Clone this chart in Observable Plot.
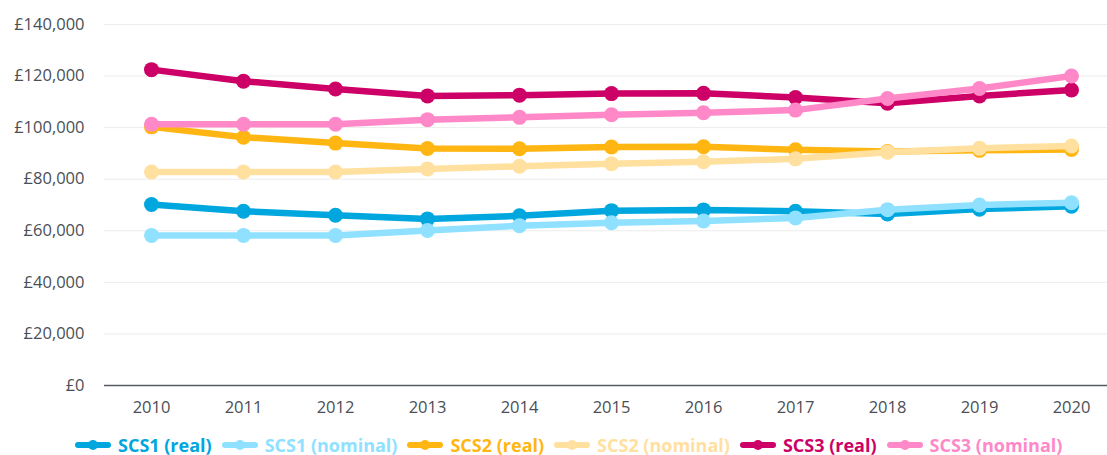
<!DOCTYPE html>
<html>
<head>
<meta charset="utf-8">
<script src="https://cdn.jsdelivr.net/npm/d3@7"></script>
<script src="https://cdn.jsdelivr.net/npm/@observablehq/plot@0.6"></script>
<style>
  html, body { margin: 0; padding: 0; background: #fff; }
  body { width: 1107px; height: 455px; overflow: hidden; font-family: "Open Sans", sans-serif; }
  #chart svg { display: block; }
  #legend { display: flex; align-items: center; height: 26px; padding-left: 75px; font-weight: 700; font-size: 18px; white-space: nowrap; }
  .item { display: flex; align-items: center; margin-right: 10px; }
  .item svg { margin-right: 7px; }
</style>
</head>
<body>
<div id="chart"></div>
<div id="legend"></div>
<script>
const years = [2010, 2011, 2012, 2013, 2014, 2015, 2016, 2017, 2018, 2019, 2020];
const seriesNames = ["SCS1 (real)", "SCS1 (nominal)", "SCS2 (real)", "SCS2 (nominal)", "SCS3 (real)", "SCS3 (nominal)"];
const scs1Real    = [70200, 67600, 66000, 64600, 65800, 67800, 68100, 67600, 66500, 68400, 69500];
const scs1Nominal = [58200, 58200, 58200, 60100, 62000, 63100, 63800, 65000, 68200, 70000, 70900];
const scs2Real    = [100300, 96300, 94000, 91900, 91800, 92500, 92600, 91400, 90700, 91200, 91500];
const scs2Nominal = [82800, 82800, 82800, 84000, 85000, 86000, 86800, 87900, 90500, 92000, 92900];
const scs3Real    = [122500, 118000, 115000, 112300, 112600, 113200, 113300, 111700, 109500, 112300, 114600];
const scs3Nominal = [101300, 101300, 101300, 103100, 104000, 105000, 105800, 106800, 111300, 115200, 120000];
const yTicks = [0, 20000, 40000, 60000, 80000, 100000, 120000, 140000];
const seriesColors = ["#00a6de", "#8fe1ff", "#ffb612", "#ffe09e", "#cc0066", "#ff88c8"];

const seriesValues = [scs1Real, scs1Nominal, scs2Real, scs2Nominal, scs3Real, scs3Nominal];
const data = seriesNames.flatMap((name, i) => years.map((year, j) => ({series: name, year, value: seriesValues[i][j]})));

const fmt = d => "£" + d3.format(",")(d);

const marks = [
  Plot.gridY(yTicks.filter(d => d > 0), {stroke: "#ececec", strokeOpacity: 1, strokeWidth: 1}),
  Plot.ruleY([0], {stroke: "#555b62", strokeWidth: 1.5}),
  Plot.axisY(yTicks, {tickSize: 0, tickPadding: 20, tickFormat: fmt, fontSize: 16.5, fill: "#4a4f55"}),
  Plot.axisX(years, {tickSize: 0, tickPadding: 16, tickFormat: d => String(d), fontSize: 16.5, fill: "#4a4f55"})
];
seriesNames.forEach(name => {
  const d = data.filter(r => r.series === name);
  marks.push(Plot.lineY(d, {x: "year", y: "value", stroke: "series", strokeWidth: 6.5, strokeLinejoin: "round", strokeLinecap: "round"}));
  marks.push(Plot.dot(d, {x: "year", y: "value", fill: "series", r: 7.5, stroke: null}));
});

const chart = Plot.plot({
  width: 1107,
  height: 432,
  marginTop: 24,
  marginLeft: 104,
  marginRight: 0,
  marginBottom: 47,
  style: {fontFamily: "'Open Sans', sans-serif", background: "#fff"},
  x: {type: "point", domain: years, padding: 0, insetLeft: 46, insetRight: 35, label: null},
  y: {domain: [0, 140000], label: null},
  color: {domain: seriesNames, range: seriesColors},
  marks
});
document.getElementById("chart").appendChild(chart);

const legend = document.getElementById("legend");
seriesNames.forEach((name, i) => {
  const item = document.createElement("div");
  item.className = "item";
  item.style.color = seriesColors[i];
  item.innerHTML = `<svg width="36" height="14"><line x1="3" y1="7" x2="33" y2="7" stroke="${seriesColors[i]}" stroke-width="6" stroke-linecap="round"/><circle cx="18" cy="7" r="5" fill="${seriesColors[i]}"/></svg><span>${name}</span>`;
  legend.appendChild(item);
});
</script>
</body>
</html>
